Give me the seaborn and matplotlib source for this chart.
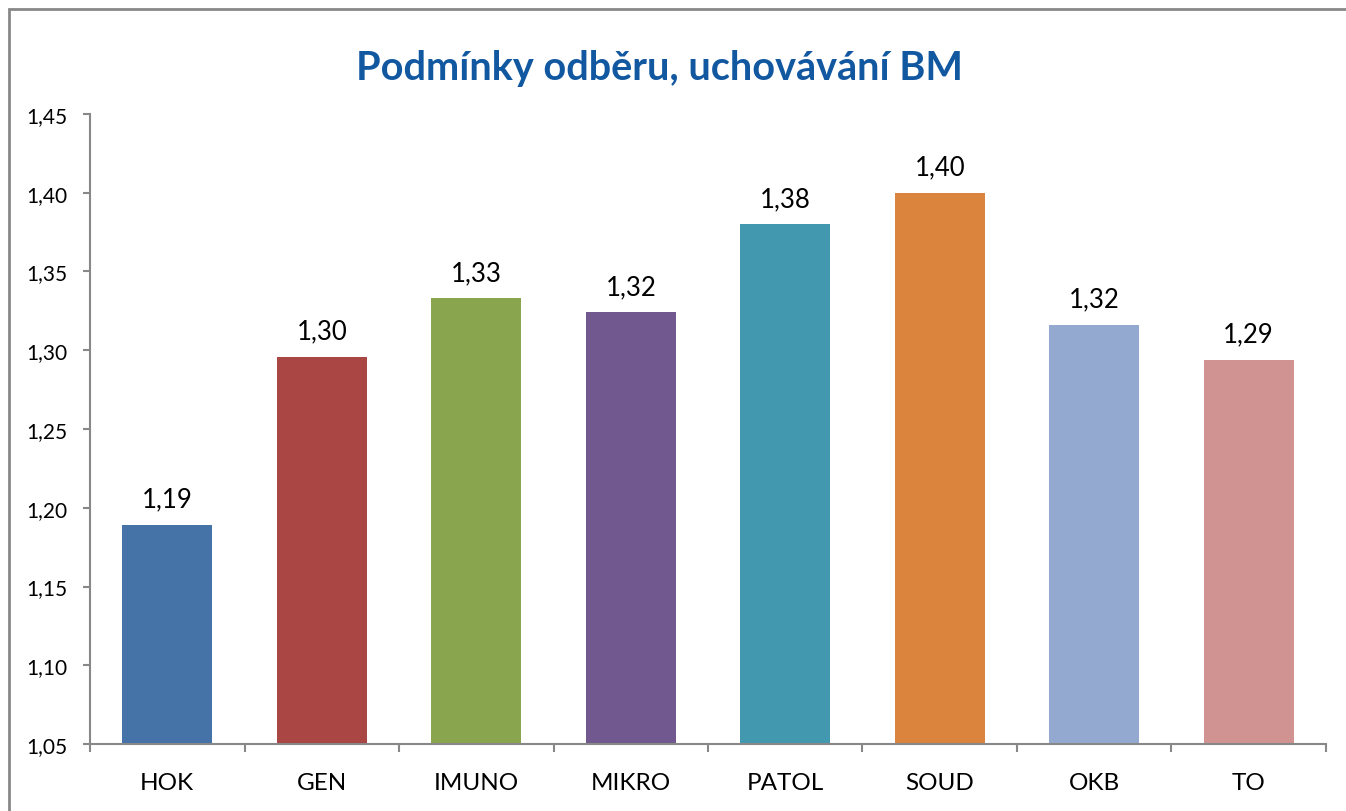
import matplotlib
matplotlib.use("Agg")
import matplotlib.pyplot as plt
import seaborn as sns
import numpy as np
import pandas as pd
from matplotlib.patches import Rectangle

# data
categories = ['HOK', 'GEN', 'IMUNO', 'MIKRO', 'PATOL', 'SOUD', 'OKB', 'TO']
values = [1.189, 1.296, 1.333, 1.324, 1.380, 1.400, 1.316, 1.294]
colors = ['#4572A7', '#AA4643', '#89A54E', '#71588F', '#4198AF', '#DB843D', '#93A9CF', '#D19392']
y_ticks = [1.05, 1.10, 1.15, 1.20, 1.25, 1.30, 1.35, 1.40, 1.45]

sns.set_theme(style="white")
plt.rcParams['font.family'] = ['Lato', 'DejaVu Sans']
plt.rcParams['text.color'] = 'black'
plt.rcParams['xtick.labelcolor'] = 'black'
plt.rcParams['ytick.labelcolor'] = 'black'

df = pd.DataFrame({'Oddeleni': categories, 'Hodnota': values})

fig = plt.figure(figsize=(13.46, 8.12), dpi=100)
ax = fig.add_axes([0.0669, 0.0825, 0.9182, 0.7759])

sns.barplot(data=df, x='Oddeleni', y='Hodnota', hue='Oddeleni', palette=colors,
            legend=False, width=0.58, saturation=1, linewidth=0, ax=ax)

ax.set_ylim(1.05, 1.45)
ax.set_xlim(-0.5, len(categories) - 0.5)
ax.set_yticks(y_ticks)
ax.set_yticklabels([f'{t:.2f}'.replace('.', ',') for t in y_ticks], fontsize=15)
ax.set_xticks(range(len(categories)))
ax.set_xticklabels(categories, fontsize=17.5)
ax.set_xticks(np.arange(-0.5, len(categories)), minor=True)
ax.tick_params(axis='x', which='major', length=0, pad=20)
ax.tick_params(axis='x', which='minor', length=6, width=1.5, color='#888888', direction='out', bottom=True)
ax.tick_params(axis='y', length=5, width=1.5, color='#888888', direction='out', left=True, pad=11)
ax.set_xlabel('')
ax.set_ylabel('')

for s in ['top', 'right']:
    ax.spines[s].set_visible(False)
for s in ['left', 'bottom']:
    ax.spines[s].set_color('#888888')
    ax.spines[s].set_linewidth(1.5)

# value labels
for i, v in enumerate(values):
    ax.text(i, v + 0.0085, f'{v:.2f}'.replace('.', ','), ha='center', va='bottom', fontsize=18.5)

fig.text(0.4903, 0.916, 'Podmínky odběru, uchovávání BM', ha='center', va='center',
         fontsize=28.5, fontweight='bold', color='#1158A0')

# outer chart frame
fig.patches.append(Rectangle((9 / 1346, -0.05), 1.1, 1 - 10 / 812 + 0.05,
                             transform=fig.transFigure, fill=False,
                             edgecolor='#888888', linewidth=2))

fig.savefig('out.png', dpi=100)
